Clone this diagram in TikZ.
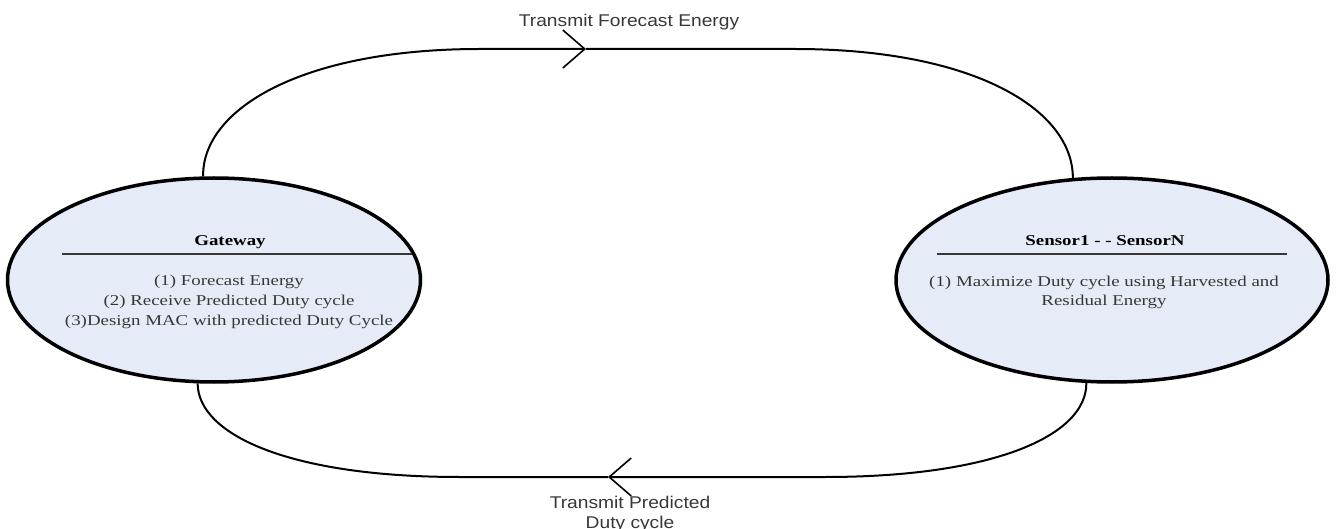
\documentclass[tikz,border=0pt]{standalone}
\usepackage{fontspec}
\usetikzlibrary{shapes.geometric,arrows.meta}
\newfontfamily\serifA[FakeStretch=1.26]{Liberation Serif}
\newfontfamily\sansA[FakeStretch=1.13]{Liberation Sans}
\definecolor{ellfill}{RGB}{230,236,247}
\definecolor{txtgray}{RGB}{55,55,55}
\tikzset{
  ell/.style={ellipse, draw=black, line width=3.5pt, fill=ellfill, inner sep=0pt},
  conn/.style={draw=black, line width=2pt},
  barb/.style={-{Straight Barb[length=22pt,width=38pt,line width=1.6pt]}},
  title/.style={font=\serifA\bfseries\fontsize{15}{20}\selectfont, text=black, anchor=base, inner sep=0pt},
  body/.style={font=\serifA\fontsize{15}{20}\selectfont, text=txtgray, align=center, anchor=base, inner sep=0pt},
  lab/.style={font=\sansA\fontsize{17}{20}\selectfont, text=txtgray, align=center, anchor=base, inner sep=0pt},
  divider/.style={draw=txtgray, line width=1.5pt}
}
\begin{document}
\begin{tikzpicture}[x=1pt,y=-1pt]
\useasboundingbox (0,0) rectangle (1336,529);
% ellipses
\node[ell, minimum width=413pt, minimum height=204pt] (gw) at (214,280) {};
\node[ell, minimum width=432pt, minimum height=204pt] (sn) at (1112,280) {};
% dividers
\draw[divider] (62,254) -- (412,254);
\draw[divider] (937,254) -- (1287,254);
% texts (base anchor of a multi-line node = baseline of its last line)
\node[title] (gwt) at (230,246) {Gateway};
\node[body] (gwb) at (229,326) {(1) Forecast Energy\\(2) Receive Predicted Duty cycle\\(3)Design MAC with predicted Duty Cycle};
\node[title] (snt) at (1105,246) {Sensor1 - - SensorN};
\node[body] (snb) at (1104,306) {(1) Maximize Duty cycle using Harvested and\\Residual Energy};
% connectors
\coordinate (tipA) at (586,49);
\coordinate (tipB) at (608,477);
\draw[conn, barb] (gw.96.5) .. controls (202,110) and (300,49) .. (480,49) -- (tipA);
\draw[conn] (tipA) -- (795,49) .. controls (975,49) and (1073,110) .. (sn.111);
\draw[conn, barb] (sn.256) .. controls (1087,435) and (995,477) .. (825,477) -- (tipB);
\draw[conn] (tipB) -- (460,477) .. controls (290,477) and (198,435) .. (gw.261);
% labels
\node[lab] (la) at (629,26.5) {Transmit Forecast Energy};
\node[lab] (lb) at (630,528) {Transmit Predicted\\Duty cycle};
\end{tikzpicture}
\end{document}
